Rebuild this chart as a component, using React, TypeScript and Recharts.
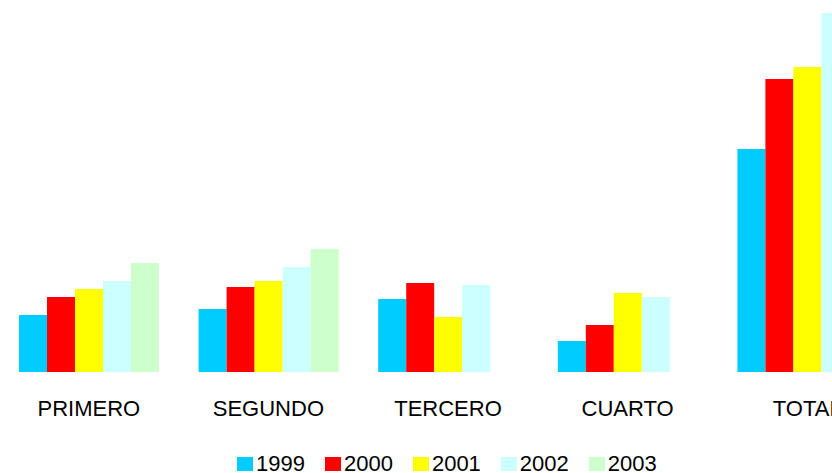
import { Bar, BarChart, XAxis, YAxis } from "recharts";

const QUARTERS = ["PRIMERO", "SEGUNDO", "TERCERO", "CUARTO", "TOTAL"];
const YEARS = ["1999", "2000", "2001", "2002", "2003"];
const COLORS = ["#00CCFF", "#FF0000", "#FFFF00", "#CCFFFF", "#CCFFCC"];

const V1999 = [57, 63, 73, 31, 223];
const V2000 = [75, 85, 89, 47, 293];
const V2001 = [83, 91, 55, 79, 305];
const V2002 = [91, 105, 87, 75, 359];
const V2003 = [109, 123, 0, 0, 232];

const SERIES = [V1999, V2000, V2001, V2002, V2003];

const data = QUARTERS.map((q, i) => {
  const row: Record<string, string | number> = { name: q };
  YEARS.forEach((y, k) => {
    row[y] = SERIES[k][i];
  });
  return row;
});

const FONT = '"Liberation Sans", Arial, sans-serif';

function Tick({ x, y, payload }: { x?: number; y?: number; payload?: { value: string } }) {
  return (
    <text x={x} y={(y ?? 0) + 36} textAnchor="middle" fill="#000" fontSize={22} fontFamily={FONT}>
      {payload?.value}
    </text>
  );
}

export default function App() {
  return (
    <div style={{ position: "fixed", left: 0, top: 0, width: 832, height: 473, overflow: "hidden", background: "#fff" }}>
      <div style={{ position: "absolute", left: -1, top: 0 }}>
        <BarChart
          width={898}
          height={432}
          data={data}
          margin={{ top: 0, right: 0, bottom: 0, left: 0 }}
          barCategoryGap={20}
          barGap={0}
        >
          <XAxis dataKey="name" axisLine={false} tickLine={false} height={60} tick={<Tick />} interval={0} />
          <YAxis hide domain={[0, 372]} />
          {YEARS.map((y, k) => (
            <Bar key={y} dataKey={y} fill={COLORS[k]} isAnimationActive={false} />
          ))}
        </BarChart>
      </div>
      <div
        style={{
          position: "absolute",
          left: 237,
          top: 451,
          display: "flex",
          alignItems: "center",
          fontFamily: FONT,
          fontSize: 22,
          lineHeight: "25px",
          color: "#000",
        }}
      >
        {YEARS.map((y, k) => (
          <div key={y} style={{ display: "flex", alignItems: "center", marginRight: 20 }}>
            <span style={{ display: "inline-block", width: 16, height: 14, background: COLORS[k], marginRight: 3 }} />
            <span>{y}</span>
          </div>
        ))}
      </div>
    </div>
  );
}
